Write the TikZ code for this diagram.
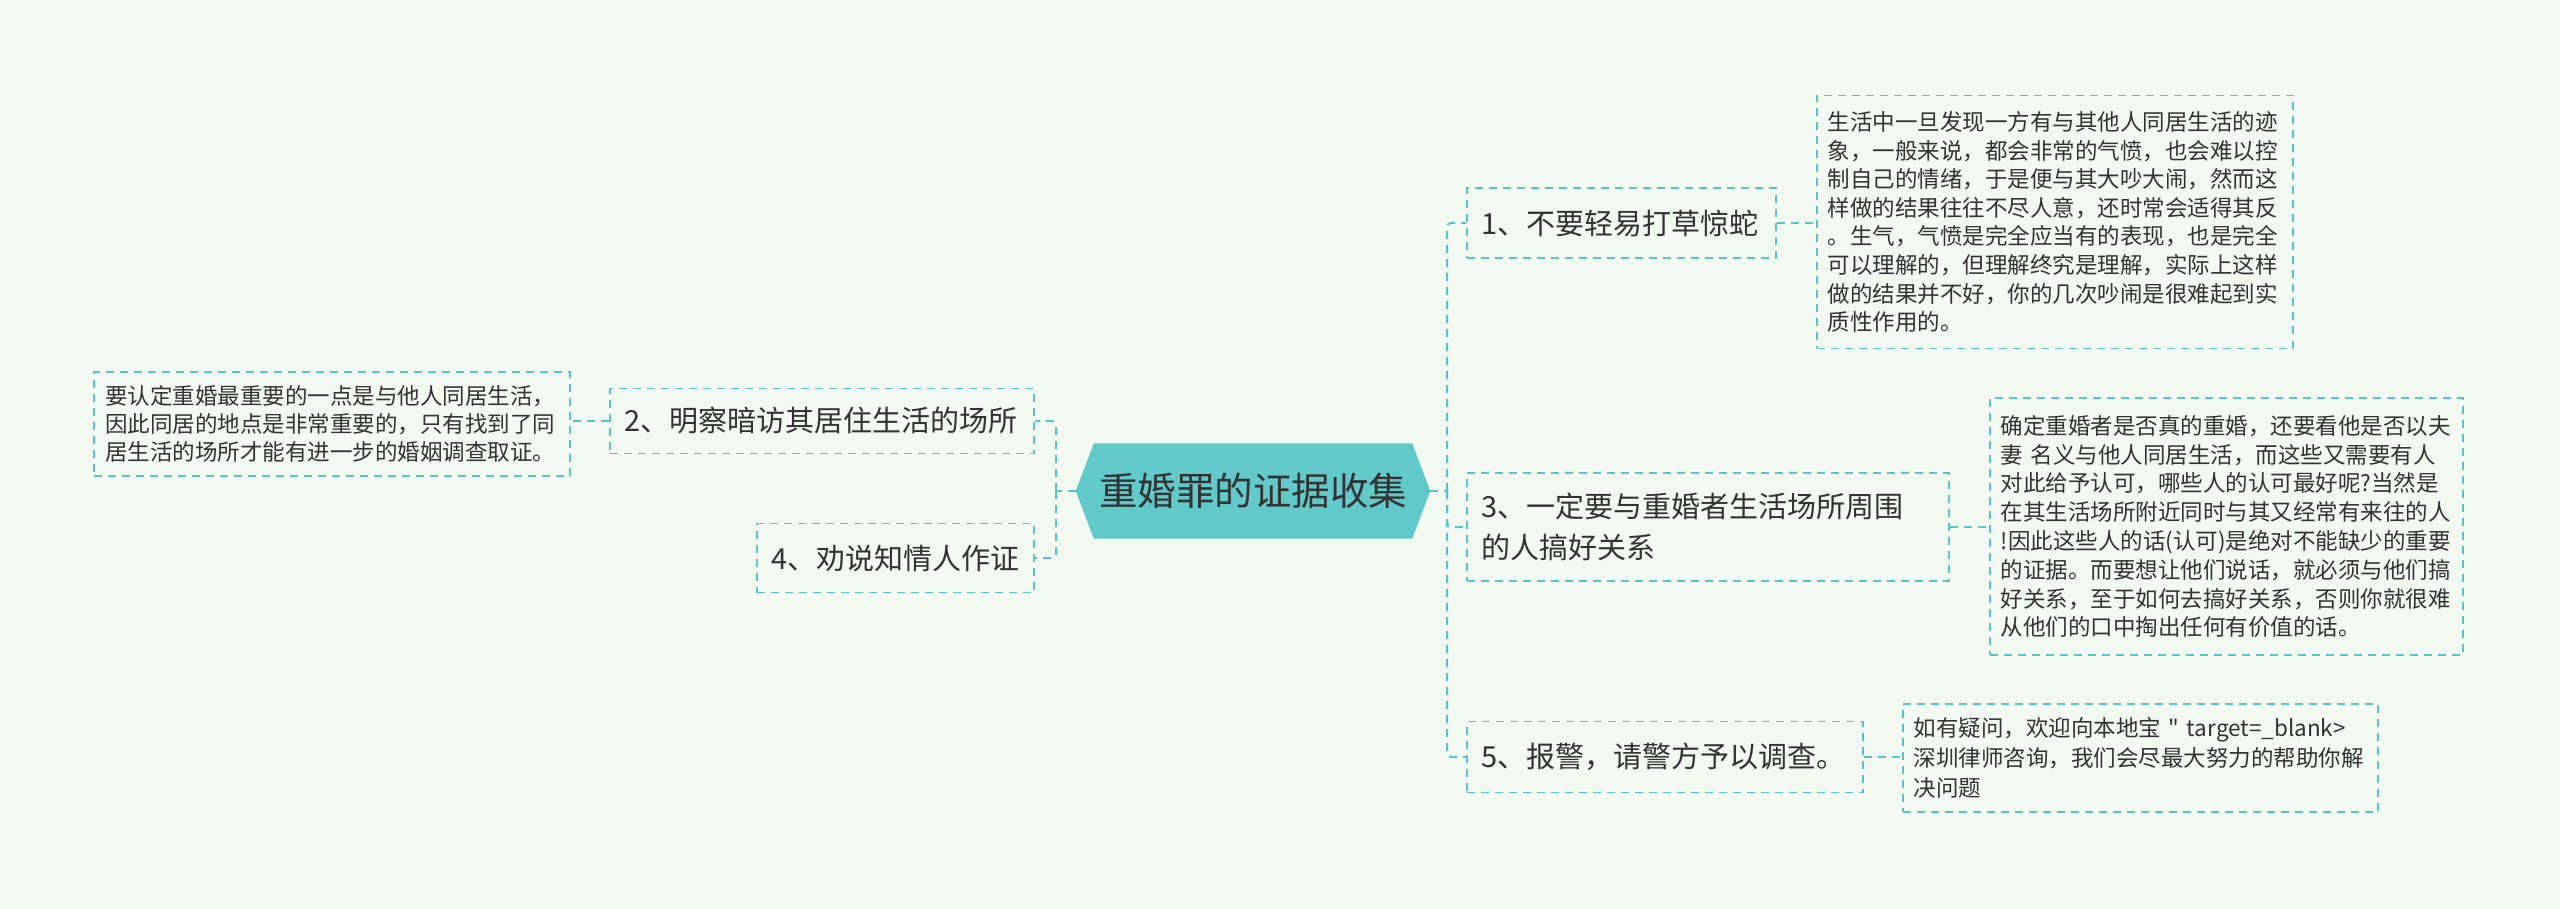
\documentclass[tikz,border=0pt]{standalone}
\usepackage{fontspec}
\setmainfont{Noto Sans CJK SC}
\newfontfamily\qfont{Noto Sans CJK SC}[Ligatures=TeXOff]
\usetikzlibrary{backgrounds}
\definecolor{bgC}{RGB}{241,249,241}
\definecolor{lineC}{RGB}{92,196,196}
\definecolor{hexC}{RGB}{98,201,202}
\definecolor{txtC}{RGB}{51,51,51}
\tikzset{
  conn/.style={draw=lineC, line width=2pt, dash pattern=on 8pt off 6pt, rounded corners=4pt},
  boxbase/.style={draw=lineC, line width=1.6pt, dash pattern=on 8pt off 6pt, align=left, text=txtC, inner ysep=0pt},
  branch/.style={boxbase, font=\fontsize{29}{41}\selectfont, inner xsep=15pt},
  leaf/.style={boxbase, inner xsep=11pt},
}
\begin{document}
\begin{tikzpicture}[x=1pt,y=-1pt]
\begin{scope}[on background layer]
\path[fill=bgC, use as bounding box] (0,0) rectangle (2560,909);
\end{scope}
% central topic
\node[font=\fontsize{38.5}{46}\selectfont, text=txtC, minimum width=354pt, minimum height=95pt, inner sep=0pt] (hex) at (1253,491) {重婚罪的证据收集};
\begin{scope}[on background layer]
\fill[hexC] (hex.west) -- ([xshift=18pt]hex.north west) -- ([xshift=-18pt]hex.north east) -- (hex.east) -- ([xshift=-18pt]hex.south east) -- ([xshift=18pt]hex.south west) -- cycle;
\end{scope}
% right branches
\node[branch, anchor=west, text width=279pt, minimum height=70pt] (b1) at (1466,223) {1、不要轻易打草惊蛇};
\node[branch, anchor=west, text width=452pt, minimum height=108pt] (b3) at (1466,527) {3、一定要与重婚者生活场所周围\\的人搞好关系};
\node[branch, anchor=west, text width=366pt, minimum height=71pt] (b5) at (1466,757) {5、报警，请警方予以调查。};
% left branches
\node[branch, anchor=east, text width=395pt, minimum height=65pt, inner xsep=14.5pt] (b2) at (1035,421) {2、明察暗访其居住生活的场所};
\node[branch, anchor=east, text width=249pt, minimum height=69pt, inner xsep=14pt] (b4) at (1035,558) {4、劝说知情人作证};
% leaves
\node[leaf, anchor=west, text width=454pt, minimum height=253pt, font=\fontsize{22.5}{28.6}\selectfont] (l1) at (1816,222) {生活中一旦发现一方有与其他人同居生活的迹\\象，一般来说，都会非常的气愤，也会难以控\\制自己的情绪，于是便与其大吵大闹，然而这\\样做的结果往往不尽人意，还时常会适得其反\\。生气，气愤是完全应当有的表现，也是完全\\可以理解的，但理解终究是理解，实际上这样\\做的结果并不好，你的几次吵闹是很难起到实\\质性作用的。};
\node[leaf, anchor=west, text width=451pt, minimum height=257pt, font=\fontsize{22.5}{28.8}\selectfont] (l3) at (1989,526.5) {确定重婚者是否真的重婚，还要看他是否以夫\\妻 名义与他人同居生活，而这些又需要有人\\对此给予认可，哪些人的认可最好呢?当然是\\在其生活场所附近同时与其又经常有来往的人\\!因此这些人的话(认可)是绝对不能缺少的重要\\的证据。而要想让他们说话，就必须与他们搞\\好关系，至于如何去搞好关系，否则你就很难\\从他们的口中掏出任何有价值的话。};
\node[leaf, anchor=west, text width=453pt, minimum height=108pt, font=\fontsize{22.5}{30}\selectfont] (l5) at (1902,758) {如有疑问，欢迎向本地宝 {\qfont"} target=\_blank>\\深圳律师咨询，我们会尽最大努力的帮助你解\\决问题};
\node[leaf, anchor=east, text width=454pt, minimum height=104pt, font=\fontsize{22.5}{28}\selectfont] (l2) at (571,424) {要认定重婚最重要的一点是与他人同居生活，\\因此同居的地点是非常重要的，只有找到了同\\居生活的场所才能有进一步的婚姻调查取证。};
% connectors
\coordinate (tR) at (1447,491);
\coordinate (tL) at (1056,491);
\draw[conn] (hex.east) -- (tR);
\draw[conn] (tR) |- (b1.west);
\draw[conn] (tR) |- (b3.west);
\draw[conn] (tR) |- (b5.west);
\draw[conn] (hex.west) -- (tL);
\draw[conn] (tL) |- (b2.east);
\draw[conn] (tL) |- (b4.east);
\draw[conn] (b1.east) -- (b1.east -| l1.west);
\draw[conn] (b3.east) -- (b3.east -| l3.west);
\draw[conn] (b5.east) -- (b5.east -| l5.west);
\draw[conn] (b2.west) -- (b2.west -| l2.east);
\end{tikzpicture}
\end{document}
